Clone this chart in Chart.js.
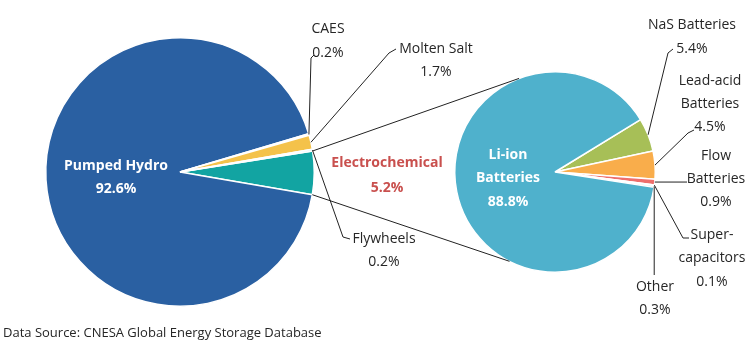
<!DOCTYPE html>
<html>
<head>
<meta charset="utf-8">
<script src="https://cdn.jsdelivr.net/npm/chart.js@4"></script>
<style>
  html, body { margin: 0; padding: 0; background: #fff; }
  #wrap { position: relative; width: 750px; height: 347px; }
  #wrap canvas { position: absolute; left: 0; top: 0; }
</style>
</head>
<body>
<div id="wrap">
  <canvas id="mainPie" width="750" height="347"></canvas>
  <canvas id="subPie" width="750" height="347"></canvas>
</div>
<script>
// Primary pie — storage technologies (share of cumulative capacity, %)
const mainCategories = ['Electrochemical', 'Pumped Hydro', 'CAES', 'Molten Salt', 'Flywheels'];
const mainValues     = [5.2, 92.6, 0.2, 1.7, 0.2];
const mainColors     = ['#12a4a2', '#2a60a2', '#dde5ee', '#f4c24a', '#c8e0f0'];

// Secondary pie — breakdown of electrochemical
const subCategories = ['NaS Batteries', 'Lead-acid Batteries', 'Flow Batteries', 'Super-capacitors', 'Other', 'Li-ion Batteries'];
const subValues     = [5.4, 4.5, 0.9, 0.1, 0.3, 88.8];
const subColors     = ['#a7bf57', '#f9ad4b', '#ee6e6c', '#f3c9cc', '#d3e6f0', '#4fb1cc'];

const FONT = '"Open Sans", "Noto Sans", sans-serif';
const TEXT = '#262626';
const pct = v => v.toFixed(1) + '%';

let mainChart = null;

function arcPoint(arc, angle, r) {
    return { x: arc.x + Math.cos(angle) * r, y: arc.y + Math.sin(angle) * r };
}
function midOuter(arc) {
    return arcPoint(arc, (arc.startAngle + arc.endAngle) / 2, arc.outerRadius);
}
function polyline(ctx, pts) {
    ctx.beginPath();
    ctx.moveTo(pts[0].x, pts[0].y);
    pts.slice(1).forEach(p => ctx.lineTo(p.x, p.y));
    ctx.stroke();
}
function lines(ctx, x, ys, texts, opts = {}) {
    ctx.save();
    ctx.font = `${opts.bold ? 'bold ' : ''}14px ${FONT}`;
    ctx.fillStyle = opts.color || TEXT;
    ctx.textAlign = 'center';
    ctx.textBaseline = 'middle';
    texts.forEach((t, i) => ctx.fillText(t, x, ys[i]));
    ctx.restore();
}

// labels + leader lines for the primary pie
const mainLabelPlugin = {
    id: 'mainLabels',
    afterDraw(chart) {
        const ctx = chart.ctx;
        const arcs = chart.getDatasetMeta(0).data;
        ctx.save();
        ctx.strokeStyle = '#222';
        ctx.lineWidth = 1;

        // CAES
        let p = midOuter(arcs[2]);
        polyline(ctx, [p, { x: 311, y: 58 }, { x: 314, y: 55 }]);
        lines(ctx, 328, [29, 53], [mainCategories[2], pct(mainValues[2])]);

        // Molten Salt
        p = midOuter(arcs[3]);
        polyline(ctx, [p, { x: 389, y: 53 }, { x: 396, y: 49 }]);
        lines(ctx, 436, [49, 72], [mainCategories[3], pct(mainValues[3])]);

        // Flywheels
        p = midOuter(arcs[4]);
        polyline(ctx, [p, { x: 343, y: 237 }, { x: 350, y: 239 }]);
        lines(ctx, 384, [239, 262], [mainCategories[4], pct(mainValues[4])]);

        // Electrochemical
        lines(ctx, 387, [163, 188], [mainCategories[0], pct(mainValues[0])], { bold: true, color: '#c9504e' });

        // Pumped Hydro
        lines(ctx, 116, [166, 189], [mainCategories[1], pct(mainValues[1])], { bold: true, color: '#fff' });
        ctx.restore();
    }
};

// labels, leader lines and connector lines for the secondary pie
const subLabelPlugin = {
    id: 'subLabels',
    afterDraw(chart) {
        const ctx = chart.ctx;
        const arcs = chart.getDatasetMeta(0).data;
        const sub = arcs[0];
        ctx.save();
        ctx.strokeStyle = '#222';
        ctx.lineWidth = 1;

        // connectors from the electrochemical slice to the secondary pie
        if (mainChart) {
            const ec = mainChart.getDatasetMeta(0).data[0];
            const a = arcPoint(ec, ec.startAngle, ec.outerRadius);
            const b = arcPoint(ec, ec.endAngle, ec.outerRadius);
            const rad = d => d * Math.PI / 180;
            polyline(ctx, [a, arcPoint(sub, rad(-111), sub.outerRadius)]);
            polyline(ctx, [b, arcPoint(sub, rad(117), sub.outerRadius)]);
        }

        // NaS
        let p = midOuter(arcs[0]);
        polyline(ctx, [p, { x: 668, y: 53 }, { x: 673, y: 49 }]);
        lines(ctx, 692, [25, 49], ['NaS Batteries', pct(subValues[0])]);

        // Lead-acid
        p = midOuter(arcs[1]);
        polyline(ctx, [p, { x: 688, y: 133 }, { x: 694, y: 130 }]);
        lines(ctx, 710, [81, 104, 127], ['Lead-acid', 'Batteries', pct(subValues[1])]);

        // Flow
        p = midOuter(arcs[2]);
        polyline(ctx, [p, { x: 687, y: p.y }]);
        lines(ctx, 716, [156, 179, 202], ['Flow', 'Batteries', pct(subValues[2])]);

        // Super-capacitors
        p = midOuter(arcs[3]);
        polyline(ctx, [p, { x: 683, y: 238 }, { x: 689, y: 238 }]);
        lines(ctx, 712, [235, 258, 282], ['Super-', 'capacitors', pct(subValues[3])]);

        // Other
        p = midOuter(arcs[4]);
        polyline(ctx, [p, { x: p.x, y: 275 }]);
        lines(ctx, 655, [287, 310], [subCategories[4], pct(subValues[4])]);

        // Li-ion
        lines(ctx, 508, [155, 178, 202], ['Li-ion', 'Batteries', pct(subValues[5])], { bold: true, color: '#fff' });

        // source note
        ctx.font = `13px ${FONT}`;
        ctx.fillStyle = TEXT;
        ctx.textAlign = 'left';
        ctx.textBaseline = 'middle';
        ctx.fillText('Data Source: CNESA Global Energy Storage Database', 3, 333);
        ctx.restore();
    }
};

const baseOptions = {
    responsive: false,
    animation: false,
    events: [],
    plugins: { legend: { display: false }, tooltip: { enabled: false } },
};

mainChart = new Chart(document.getElementById('mainPie'), {
    type: 'pie',
    data: {
        labels: mainCategories,
        datasets: [{
            data: mainValues,
            backgroundColor: mainColors,
            borderColor: '#fff',
            borderWidth: 1.5,
        }],
    },
    options: {
        ...baseOptions,
        rotation: 81,
        layout: { padding: { left: 45, right: 435, top: 37, bottom: 40 } },
    },
    plugins: [mainLabelPlugin],
});

new Chart(document.getElementById('subPie'), {
    type: 'pie',
    data: {
        labels: subCategories,
        datasets: [{
            data: subValues,
            backgroundColor: subColors,
            borderColor: '#fff',
            borderWidth: 1.5,
        }],
    },
    options: {
        ...baseOptions,
        rotation: 58.5,
        layout: { padding: { left: 454, right: 94, top: 71, bottom: 74 } },
    },
    plugins: [subLabelPlugin],
});
</script>
</body>
</html>
